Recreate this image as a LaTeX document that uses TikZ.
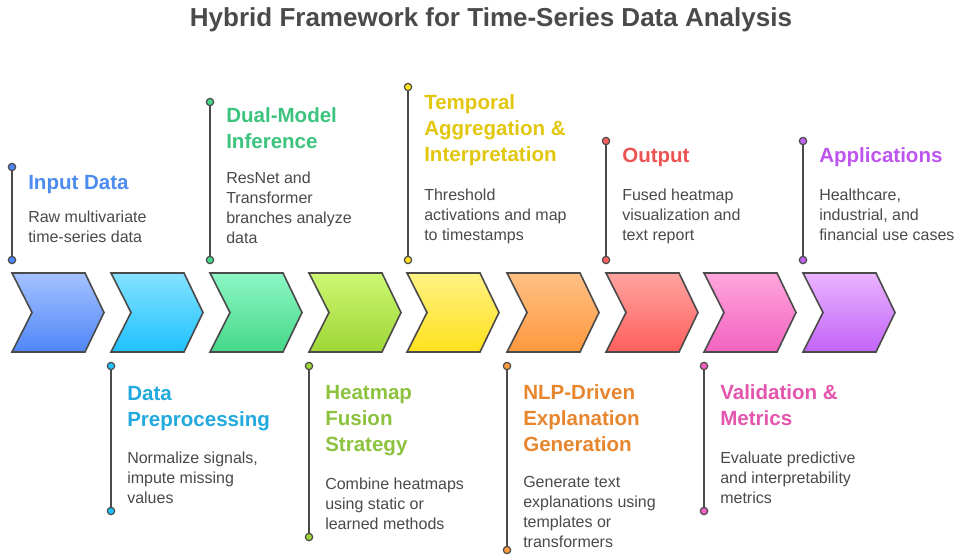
\documentclass[tikz,border=0pt]{standalone}
\usepackage{fontspec}
\setmainfont{Liberation Sans}
\definecolor{edge}{HTML}{4A4A4A}
\definecolor{t1}{HTML}{A4C2FF}\definecolor{b1}{HTML}{4F86F7}\definecolor{h1}{HTML}{4C8BF0}
\definecolor{t2}{HTML}{84E2FF}\definecolor{b2}{HTML}{1EC2FF}\definecolor{h2}{HTML}{22A9DD}
\definecolor{t3}{HTML}{8CF7C4}\definecolor{b3}{HTML}{45D888}\definecolor{h3}{HTML}{3CC47E}
\definecolor{t4}{HTML}{CCF772}\definecolor{b4}{HTML}{9ED636}\definecolor{h4}{HTML}{8DC23F}
\definecolor{t5}{HTML}{FFF284}\definecolor{b5}{HTML}{FFE11C}\definecolor{h5}{HTML}{E2C70E}
\definecolor{t6}{HTML}{FFC084}\definecolor{b6}{HTML}{FF993E}\definecolor{h6}{HTML}{E8862E}
\definecolor{t7}{HTML}{FFA4A0}\definecolor{b7}{HTML}{FF5F5C}\definecolor{h7}{HTML}{EC5353}
\definecolor{t8}{HTML}{FFA6DC}\definecolor{b8}{HTML}{F262C0}\definecolor{h8}{HTML}{E455AD}
\definecolor{t9}{HTML}{EAB4FF}\definecolor{b9}{HTML}{C264F8}\definecolor{h9}{HTML}{BD55EE}
\begin{document}
\begin{tikzpicture}[x=0.75pt,y=-0.75pt,
  chev/.style={draw=edge,line width=1.2pt,line join=miter},
  stem/.style={draw=edge,line width=1.1pt},
  dotc/.style={draw=edge,line width=0.9pt,circle,inner sep=0pt,minimum size=5.5pt},
  ttl/.style={anchor=base west,align=left,font=\fontsize{15.4}{19.5}\selectfont\bfseries,inner sep=0pt},
  dsc/.style={anchor=base west,align=left,font=\fontsize{12}{15}\selectfont,text=edge,inner sep=0pt}]
\useasboundingbox[fill=white] (0,0) rectangle (962,554);
\node[font=\fontsize{19.5}{24}\selectfont\bfseries,text=edge,anchor=base,inner sep=0pt] (title) at (491,26) {Hybrid Framework for Time-Series Data Analysis};
% chevrons
\foreach \i/\L in {1/12,2/111,3/210,4/309,5/407,6/507,7/606,8/704,9/803}
  \shadedraw[chev,top color=t\i,bottom color=b\i] (\L,273) -- ++(73,0) -- ++(19,39.5) -- ++(-19,39.5) -- ++(-73,0) -- ++(20,-39.5) -- cycle;
% stems with dots
\foreach \i/\X/\A/\B in {1/12/167/260,3/210/102/260,5/408/87/260,7/606/141/260,9/803/141/260,2/111/366/511,4/309/366/537,6/507/366/550,8/704/366/511}{
  \node[dotc,fill=b\i] (s\i a) at (\X,\A) {};
  \node[dotc,fill=b\i] (s\i b) at (\X,\B) {};
  \draw[stem] (s\i a) -- (s\i b);
}
% texts (base anchor = baseline of the last line)
\node[ttl,text=h1] (ti1) at (28,189) {Input Data};
\node[dsc] (de1) at (28,242) {Raw multivariate\\time-series data};
\node[ttl,text=h3] (ti3) at (226,148) {Dual-Model\\Inference};
\node[dsc] (de3) at (226,243) {ResNet and\\Transformer\\branches analyze\\data};
\node[ttl,text=h5] (ti5) at (424,161) {Temporal\\Aggregation \&\\Interpretation};
\node[dsc] (de5) at (424,240) {Threshold\\activations and map\\to timestamps};
\node[ttl,text=h7] (ti7) at (622,162) {Output};
\node[dsc] (de7) at (622,240) {Fused heatmap\\visualization and\\text report};
\node[ttl,text=h9] (ti9) at (819,162) {Applications};
\node[dsc] (de9) at (819,240) {Healthcare,\\industrial, and\\financial use cases};
\node[ttl,text=h2] (ti2) at (127,426) {Data\\Preprocessing};
\node[dsc] (de2) at (127,503) {Normalize signals,\\impute missing\\values};
\node[ttl,text=h4] (ti4) at (325,451) {Heatmap\\Fusion\\Strategy};
\node[dsc] (de4) at (325,529) {Combine heatmaps\\using static or\\learned methods};
\node[ttl,text=h6] (ti6) at (523,451) {NLP-Driven\\Explanation\\Generation};
\node[dsc] (de6) at (523,547) {Generate text\\explanations using\\templates or\\transformers};
\node[ttl,text=h8] (ti8) at (720,425) {Validation \&\\Metrics};
\node[dsc] (de8) at (720,503) {Evaluate predictive\\and interpretability\\metrics};
\end{tikzpicture}
\end{document}
